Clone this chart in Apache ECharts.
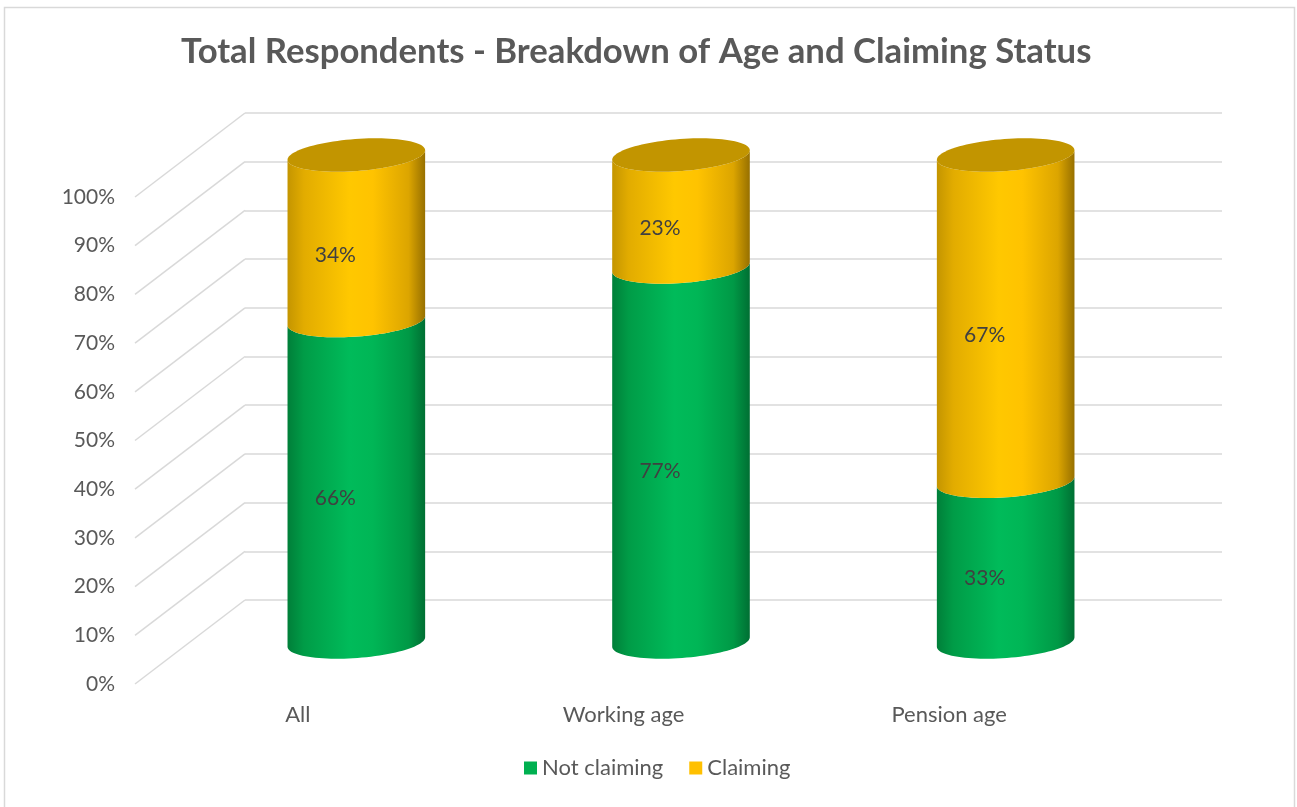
<!DOCTYPE html>
<html>
<head>
<meta charset="utf-8">
<title>Total Respondents - Breakdown of Age and Claiming Status</title>
<script src="https://cdn.jsdelivr.net/npm/echarts@6/dist/echarts.min.js"></script>
<style>
  html, body { margin: 0; padding: 0; background: #ffffff; }
  #chart { width: 1297px; height: 807px; }
</style>
</head>
<body>
<div id="chart"></div>
<script>
// ---- data ----
const categories = ['All', 'Working age', 'Pension age'];
const notClaiming = [66, 77, 33];
const claiming = [34, 23, 67];
const yTicks = [0, 10, 20, 30, 40, 50, 60, 70, 80, 90, 100];

// ---- 3D look ----
const FONT = 'Lato, "Open Sans", "Liberation Sans", sans-serif';
const DEPTH_X = 110;   // back wall -> front edge, horizontal shift
const DEPTH_Y = 84;    // back wall -> front edge, vertical shift
const RX_FRAC = 0.425; // cylinder diameter as share of category width
const RY = 16;         // ellipse vertical semi-axis
const TILT = -4.2 * Math.PI / 180;

const greenFill = {
  type: 'linear', x: 0, y: 0, x2: 1, y2: 0,
  colorStops: [
    { offset: 0, color: '#007F39' },
    { offset: 0.12, color: '#009C47' },
    { offset: 0.45, color: '#00BB5A' },
    { offset: 0.62, color: '#00B656' },
    { offset: 0.88, color: '#009946' },
    { offset: 1, color: '#006F33' }
  ]
};
const yellowFill = {
  type: 'linear', x: 0, y: 0, x2: 1, y2: 0,
  colorStops: [
    { offset: 0, color: '#C49500' },
    { offset: 0.12, color: '#E2AC00' },
    { offset: 0.45, color: '#FFC800' },
    { offset: 0.62, color: '#FFC300' },
    { offset: 0.88, color: '#DCA500' },
    { offset: 1, color: '#977000' }
  ]
};

function ellPoint(cx, cy, a, t) {
  const x = a * Math.cos(t), y = RY * Math.sin(t);
  return [cx + x * Math.cos(TILT) - y * Math.sin(TILT),
          cy + x * Math.sin(TILT) + y * Math.cos(TILT)];
}
function arc(cx, cy, a, t0, t1, n) {
  const pts = [];
  for (let k = 0; k <= n; k++) pts.push(ellPoint(cx, cy, a, t0 + (t1 - t0) * k / n));
  return pts;
}

function cylinderItem(fill, withCap) {
  return function (params, api) {
    const idx = api.value(0);
    const v0 = api.value(1), v1 = api.value(2);
    const cx = api.coord([idx, 0])[0];
    const yb = api.coord([idx, v0])[1];
    const yt = api.coord([idx, v1])[1];
    const a = api.size([1, 0])[0] * RX_FRAC / 2;
    // body: lower front arc at bottom, then lower front arc of top edge
    const pts = [].concat(
      arc(cx, yb, a, Math.PI, 0, 48),
      arc(cx, yt, a, 0, Math.PI, 48)
    );
    const children = [{
      type: 'polygon',
      shape: { points: pts },
      style: { fill: fill }
    }];
    if (withCap) {
      children.push({
        type: 'polygon',
        shape: { points: arc(cx, yt, a, 0, Math.PI * 2, 96) },
        style: { fill: '#C29500' }
      });
    }
    children.push({
      type: 'text',
      style: {
        text: Math.round(v1 - v0) + '%',
        x: cx - 21, y: (yb + yt) / 2 + 17,
        align: 'center', verticalAlign: 'middle',
        fontFamily: FONT, fontSize: 21, fill: '#404040'
      }
    });
    return { type: 'group', children: children };
  };
}

const chart = echarts.init(document.getElementById('chart'), null, { renderer: 'canvas' });

const hiddenCat = {
  type: 'category', data: categories,
  axisLine: { show: false }, axisTick: { show: false }, axisLabel: { show: false }
};
const hiddenVal = {
  type: 'value', min: 0, max: 100, interval: 10,
  axisLine: { show: false }, axisTick: { show: false }, axisLabel: { show: false },
  splitLine: { show: false }
};

chart.setOption({
  animation: false,
  backgroundColor: '#ffffff',
  title: {
    text: 'Total Respondents - Breakdown of Age and Claiming Status',
    left: 176, top: 29,
    textStyle: { fontFamily: FONT, fontSize: 34.7, fontWeight: 'bold', color: '#595959' }
  },
  legend: {
    bottom: 23, left: 519,
    icon: 'rect', itemWidth: 13, itemHeight: 13, itemGap: 26,
    textStyle: { fontFamily: FONT, fontSize: 22, color: '#595959' },
    data: ['Not claiming', 'Claiming']
  },
  graphic: [{
    type: 'rect', silent: true,
    shape: { x: 4.5, y: 7.5, width: 1290, height: 820 },
    style: { fill: 'none', stroke: '#d9d9d9', lineWidth: 1.5 }
  }],
  grid: [
    { left: 245, top: 113, width: 977, height: 487 },  // back wall
    { left: 135, top: 197, width: 977, height: 487 },  // front edge (labels)
    { left: 194, top: 155, width: 974, height: 487 }   // cylinders, mid depth
  ],
  xAxis: [
    Object.assign({ gridIndex: 0 }, hiddenCat),
    {
      gridIndex: 1, type: 'category', data: categories,
      axisLine: { show: false }, axisTick: { show: false },
      axisLabel: { margin: 20, fontFamily: FONT, fontSize: 22, color: '#595959' }
    },
    Object.assign({ gridIndex: 2 }, hiddenCat)
  ],
  yAxis: [
    Object.assign({}, hiddenVal, {
      gridIndex: 0,
      splitLine: { show: true, lineStyle: { color: '#d9d9d9', width: 1.5 } }
    }),
    Object.assign({}, hiddenVal, {
      gridIndex: 1,
      axisLabel: {
        show: true, margin: 20, formatter: '{value}%',
        fontFamily: FONT, fontSize: 21, color: '#595959'
      }
    }),
    Object.assign({ gridIndex: 2 }, hiddenVal)
  ],
  series: [
    {
      // floor-to-wall slanted gridlines
      type: 'custom', xAxisIndex: 0, yAxisIndex: 0, silent: true, z: 1,
      encode: { x: 0, y: 1 },
      data: yTicks.map(v => [0, v]),
      renderItem: function (params, api) {
        const x = params.coordSys.x;
        const y = api.coord([0, api.value(1)])[1];
        return {
          type: 'line',
          shape: { x1: x, y1: y, x2: x - DEPTH_X, y2: y + DEPTH_Y },
          style: { stroke: '#d9d9d9', lineWidth: 1.5 }
        };
      }
    },
    {
      name: 'Not claiming', type: 'custom', xAxisIndex: 2, yAxisIndex: 2, z: 5,
      itemStyle: { color: '#00B050' },
      encode: { x: 0, y: [1, 2] },
      data: notClaiming.map((v, i) => [i, 0, v]),
      renderItem: cylinderItem(greenFill, false)
    },
    {
      name: 'Claiming', type: 'custom', xAxisIndex: 2, yAxisIndex: 2, z: 5,
      itemStyle: { color: '#FFC000' },
      encode: { x: 0, y: [1, 2] },
      data: claiming.map((v, i) => [i, notClaiming[i], notClaiming[i] + v]),
      renderItem: cylinderItem(yellowFill, true)
    }
  ]
});
</script>
</body>
</html>
